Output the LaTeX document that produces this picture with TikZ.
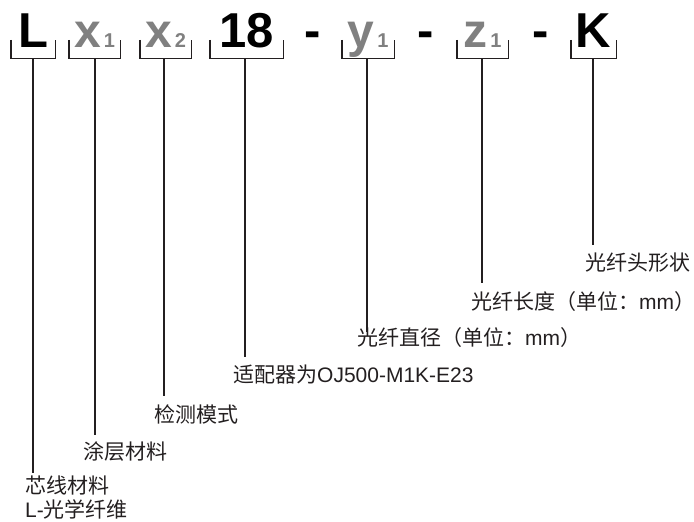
\documentclass[tikz,border=0pt]{standalone}
\usepackage{fontspec}
\setmainfont{Liberation Sans}
\newfontfamily\cjk{Noto Sans CJK SC}
\definecolor{codegray}{gray}{0.5}
\definecolor{textblack}{HTML}{231F20}
\newcommand{\codevar}[2]{{\color{codegray}\bfseries\fontsize{48}{48}\selectfont #1\hspace{3pt}\fontsize{20}{20}\selectfont #2}}
\tikzset{code/.style = {anchor = base, inner sep = 0pt, font = \bfseries\fontsize{49}{49}\selectfont}}
\tikzset{slot/.style = {minimum height = 18pt, inner sep = 0pt}}
\tikzset{brace/.style = {draw = textblack, line width = 1.4pt}}
\tikzset{lead/.style = {draw = textblack, line width = 2.6pt}}
\tikzset{desc/.style = {anchor = west, inner sep = 0pt, text = textblack, font = \fontsize{21}{24}\selectfont}}

\begin{document}
\begin{tikzpicture}[x = 1pt, y = -1pt]
	\useasboundingbox (0, 0) rectangle (694, 522);

	% code letters
	\node[code] (cL) at (33, 47) {L};
	\node[code] (cx1) at (94.5, 47) {\codevar{x}{1}};
	\node[code] (cx2) at (165.5, 47) {\codevar{x}{2}};
	\node[code] (c18) at (246.5, 47) {18};
	\node[code] (m1) at (312.5, 47) {-};
	\node[code] (cy1) at (368, 47) {\codevar{y}{1}};
	\node[code] (m2) at (426, 47) {-};
	\node[code] (cz1) at (482.5, 47) {\codevar{z}{1}};
	\node[code] (m3) at (540.5, 47) {-};
	\node[code] (cK) at (593.5, 47) {K};

	% slots under the letters
	\node[slot, minimum width = 44pt] (bL) at (33, 49) {};
	\node[slot, minimum width = 51pt] (bx1) at (94.5, 49) {};
	\node[slot, minimum width = 51pt] (bx2) at (165.5, 49) {};
	\node[slot, minimum width = 73pt] (b18) at (246.5, 49) {};
	\node[slot, minimum width = 52pt] (by1) at (368, 49) {};
	\node[slot, minimum width = 51pt] (bz1) at (482.5, 49) {};
	\node[slot, minimum width = 45pt] (bK) at (593.5, 49) {};
	\foreach \b in {bL, bx1, bx2, b18, by1, bz1, bK}
		\draw[brace] (\b.north west) |- (\b.south east) -- (\b.north east);

	% descriptions
	\node[desc, align = left] (dL) at (25, 498) {{\cjk 芯线材料}\\L-{\cjk 光学纤维}};
	\node[desc] (dx1) at (83, 452) {\cjk 涂层材料};
	\node[desc] (dx2) at (154, 414) {\cjk 检测模式};
	\node[desc] (d18) at (233, 375) {{\cjk 适配器为}OJ500-M1K-E23};
	\node[desc] (dy1) at (357, 338) {{\cjk 光纤直径（单位：}mm{\cjk ）}};
	\node[desc] (dz1) at (471, 302) {{\cjk 光纤长度（单位：}mm{\cjk ）}};
	\node[desc] (dK) at (585, 263) {\cjk 光纤头形状};

	% lead ends
	\coordinate (eL) at (33, 473);
	\coordinate (ex1) at (95, 435);
	\coordinate (ex2) at (164, 396);
	\coordinate (e18) at (245, 357);
	\coordinate (ey1) at (367, 332);
	\coordinate (ez1) at (482, 283);
	\coordinate (eK) at (593, 245);

	\draw[lead] (bL.south) -- (bL.south -| eL) -- (eL);
	\draw[lead] (bx1.south -| ex1) -- (ex1);
	\draw[lead] (bx2.south -| ex2) -- (ex2);
	\draw[lead] (b18.south -| e18) -- (e18);
	\draw[lead] (by1.south -| ey1) -- (ey1);
	\draw[lead] (bz1.south -| ez1) -- (ez1);
	\draw[lead] (bK.south -| eK) -- (eK);
\end{tikzpicture}
\end{document}
